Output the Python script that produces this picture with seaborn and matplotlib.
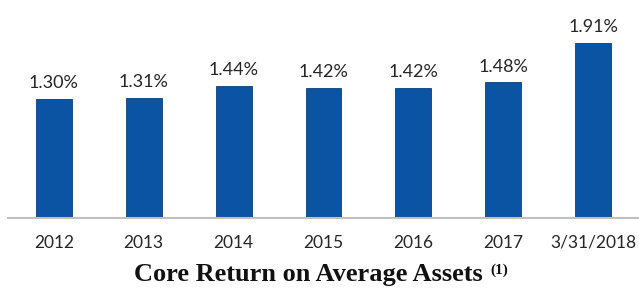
import matplotlib
matplotlib.use("Agg")
import matplotlib.pyplot as plt
import seaborn as sns
import pandas as pd

# Data
periods = ["2012", "2013", "2014", "2015", "2016", "2017", "3/31/2018"]
core_roaa = [1.30, 1.31, 1.44, 1.42, 1.42, 1.48, 1.91]
value_labels = ["1.30%", "1.31%", "1.44%", "1.42%", "1.42%", "1.48%", "1.91%"]
title_text = "Core Return on Average Assets"
footnote_mark = "(1)"

df = pd.DataFrame({"period": periods, "roaa": core_roaa})

sns.set_theme(style="white")
plt.rcParams["font.family"] = ["Lato", "DejaVu Sans"]

fig = plt.figure(figsize=(6.39, 2.89), dpi=100)
ax = fig.add_axes([0.0125, 0.2457, 0.9875, 0.7543])

sns.barplot(data=df, x="period", y="roaa", color="#0A54A3", saturation=1,
            width=0.4, edgecolor="#0A3F7A", linewidth=0.6, ax=ax)

ax.set_xlim(-0.51, 6.51)
ax.set_ylim(0, 2.38)

for i, (v, lab) in enumerate(zip(core_roaa, value_labels)):
    ax.annotate(lab, (i, v), xytext=(0, 5.5), textcoords="offset points",
                ha="center", va="bottom", fontsize=13, color="#262626")

sns.despine(ax=ax, left=True, top=True, right=True)
ax.spines["bottom"].set_color("#BFBFBF")
ax.spines["bottom"].set_linewidth(1.5)
ax.set_yticks([])
ax.set_xlabel("")
ax.set_ylabel("")
ax.tick_params(axis="x", length=0, pad=12, labelsize=12.5, labelcolor="#262626")

# Title below the chart, with a raised footnote mark
t = fig.text(134 / 639, 8 / 289, title_text, ha="left", va="baseline",
             family="Liberation Serif", fontweight="bold", fontsize=19, color="#111111")
fig.canvas.draw()
bb = t.get_window_extent(fig.canvas.get_renderer())
fig.text((bb.x1 + 8) / fig.bbox.width, 25 / 289, footnote_mark,
         ha="left", va="top", family="Liberation Serif", fontweight="bold",
         fontsize=11, color="#111111")

fig.savefig("out.png", dpi=100)
